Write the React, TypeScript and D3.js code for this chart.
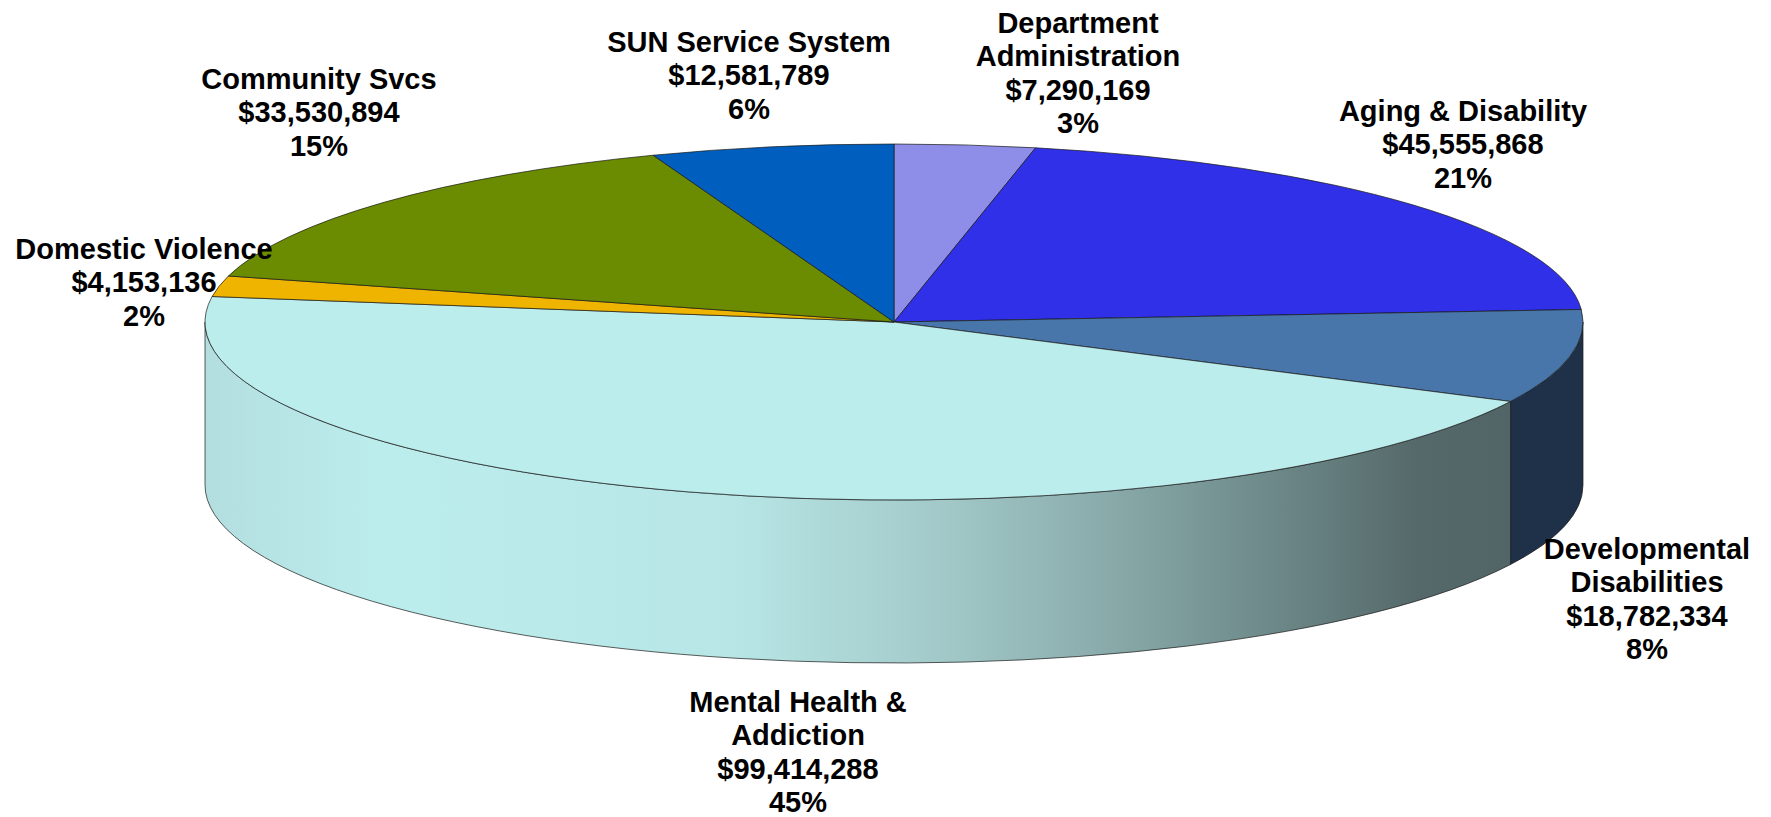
import React, { useEffect } from "react";
import * as d3 from "d3";

// ---- data ----
const categories = [
  "Department Administration",
  "Aging & Disability",
  "Developmental Disabilities",
  "Mental Health & Addiction",
  "Domestic Violence",
  "Community Svcs",
  "SUN Service System",
];
const amounts = [7290169, 45555868, 18782334, 99414288, 4153136, 33530894, 12581789];

// ---- styles / layout ----
const topColors = ["#8E8EE8", "#3030E8", "#4876AA", "#BCEDED", "#EEB400", "#6B8C00", "#005EBE"];
const sideColors = ["#5C5CA0", "#1F1FA0", "#1F3049", "url(#mhSide)", "#A07800", "#485E00", "#003F80"];
const labelLines: string[][] = [
  ["Department", "Administration"],
  ["Aging & Disability"],
  ["Developmental", "Disabilities"],
  ["Mental Health &", "Addiction"],
  ["Domestic Violence"],
  ["Community Svcs"],
  ["SUN Service System"],
];
const labelAnchors = [
  { x: 1078, y: 33 },
  { x: 1463, y: 121 },
  { x: 1647, y: 559 },
  { x: 798, y: 712 },
  { x: 144, y: 259 },
  { x: 319, y: 89 },
  { x: 749, y: 52 },
];

const W = 1771;
const H = 817;
const cx = 894;
const cy = 322;
const rx = 689;
const ry = 178;
const depth = 163;
const lineH = 33.3;

export default function App() {
  useEffect(() => {
    document.body.style.margin = "0";
  }, []);

  const total = d3.sum(amounts);
  const pie = d3.pie<number>().sort(null).value((d) => d)(amounts);
  const pt = (a: number, dy = 0): [number, number] => [cx + rx * Math.sin(a), cy - ry * Math.cos(a) + dy];
  const money = d3.format("$,.0f");

  const topPath = (a0: number, a1: number) => {
    const p0 = pt(a0);
    const p1 = pt(a1);
    const large = a1 - a0 > Math.PI ? 1 : 0;
    return `M${cx},${cy}L${p0[0]},${p0[1]}A${rx},${ry} 0 ${large} 1 ${p1[0]},${p1[1]}Z`;
  };
  const sidePath = (a0: number, a1: number) => {
    const s = Math.max(a0, Math.PI / 2);
    const e = Math.min(a1, (3 * Math.PI) / 2);
    if (e <= s) return null;
    const p0 = pt(s);
    const p1 = pt(e);
    const q1 = pt(e, depth);
    const q0 = pt(s, depth);
    const large = e - s > Math.PI ? 1 : 0;
    return `M${p0[0]},${p0[1]}A${rx},${ry} 0 ${large} 1 ${p1[0]},${p1[1]}L${q1[0]},${q1[1]}A${rx},${ry} 0 ${large} 0 ${q0[0]},${q0[1]}Z`;
  };

  return (
    <svg width={W} height={H} style={{ display: "block", background: "#fff" }}>
      <defs>
        <linearGradient id="mhSide" gradientUnits="userSpaceOnUse" x1={cx - rx} y1={0} x2={cx + rx} y2={0}>
          <stop offset="0" stopColor="#B3DEDF" />
          <stop offset="0.13" stopColor="#BCEDED" />
          <stop offset="0.38" stopColor="#B8E6E6" />
          <stop offset="0.52" stopColor="#A5CCCC" />
          <stop offset="0.65" stopColor="#8BACAC" />
          <stop offset="0.78" stopColor="#6C8787" />
          <stop offset="0.88" stopColor="#55696A" />
          <stop offset="1" stopColor="#4E6263" />
        </linearGradient>
      </defs>
      <g>
        {pie.map((d, i) => {
          const p = sidePath(d.startAngle, d.endAngle);
          return p ? (
            <path key={"s" + i} d={p} fill={sideColors[i]} stroke="#1a1a1a" strokeWidth={1} strokeOpacity={0.7} strokeLinejoin="round" />
          ) : null;
        })}
        {pie.map((d, i) => (
          <path key={"t" + i} d={topPath(d.startAngle, d.endAngle)} fill={topColors[i]} stroke="#1a1a1a" strokeWidth={1} strokeOpacity={0.7} strokeLinejoin="round" />
        ))}
      </g>
      <g fontFamily="'Liberation Sans', Arial, sans-serif" fontWeight="bold" fontSize={29} fill="#000" textAnchor="middle">
        {pie.map((d, i) => {
          const lines = [...labelLines[i], money(amounts[i]), Math.round((amounts[i] / total) * 100) + "%"];
          const a = labelAnchors[i];
          return (
            <text key={"l" + i} x={a.x} y={a.y}>
              {lines.map((l, j) => (
                <tspan key={j} x={a.x} y={a.y + j * lineH}>
                  {l}
                </tspan>
              ))}
            </text>
          );
        })}
      </g>
    </svg>
  );
}
